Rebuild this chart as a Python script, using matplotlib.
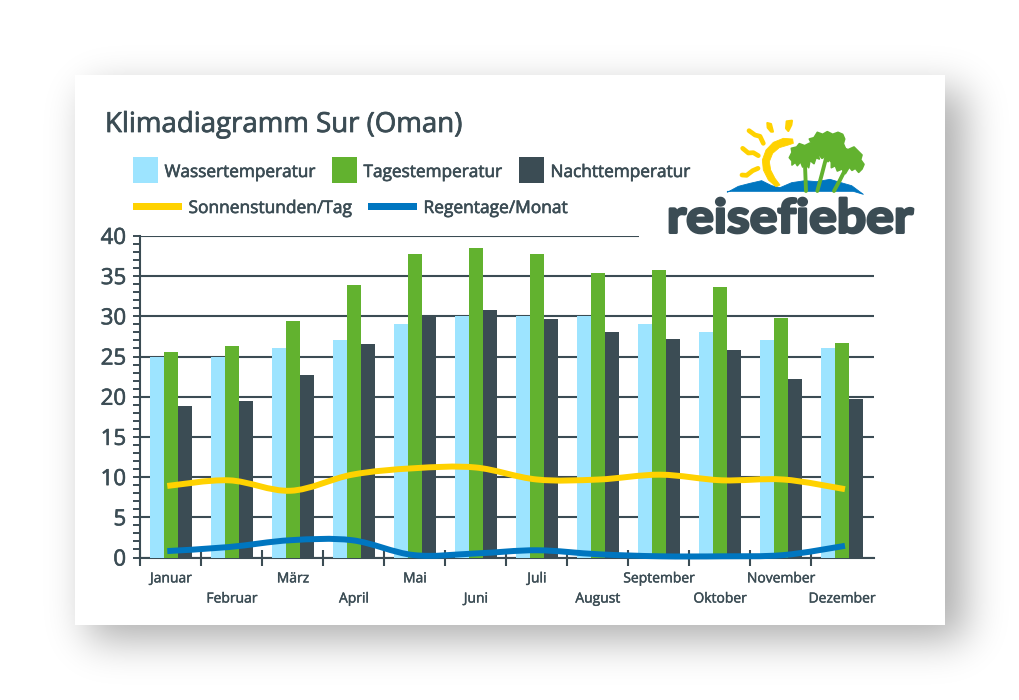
import matplotlib
matplotlib.use("Agg")
import matplotlib.patheffects as pe
import matplotlib.pyplot as plt
import numpy as np
from matplotlib.font_manager import FontProperties
from matplotlib.patches import PathPatch, Polygon, Rectangle
from matplotlib.path import Path
from matplotlib.textpath import TextPath
from matplotlib.transforms import Affine2D

months = ["Januar", "Februar", "März", "April", "Mai", "Juni", "Juli", "August",
          "September", "Oktober", "November", "Dezember"]
wasser = [25, 25, 26, 27, 29, 30, 30, 30, 29, 28, 27, 26]
tag = [25.6, 26.3, 29.4, 33.9, 37.8, 38.5, 37.8, 35.4, 35.7, 33.6, 29.8, 26.7]
nacht = [18.9, 19.5, 22.7, 26.6, 30.1, 30.8, 29.7, 28.1, 27.2, 25.8, 22.2, 19.7]
sonne = [8.9, 9.6, 8.3, 10.3, 11.1, 11.2, 9.7, 9.7, 10.3, 9.6, 9.7, 8.5]
regen = [0.8, 1.3, 2.15, 2.15, 0.3, 0.5, 0.9, 0.4, 0.15, 0.15, 0.3, 1.45]

WATER = "#9de4ff"
GREEN = "#62b22f"
DARK = "#3b4c54"
YELLOW = "#ffd200"
BLUE = "#0076c0"
W, H = 1020, 700

plt.rcParams["font.family"] = ["Open Sans", "DejaVu Sans"]
HEAVY = [pe.withStroke(linewidth=0.45, foreground=DARK)]


def smooth_path(xs, ys):
    # bezier through the monthly values
    xs, ys = np.asarray(xs, float), np.asarray(ys, float)
    verts = [(xs[0], ys[0])]
    codes = [Path.MOVETO]
    n = len(xs)
    for i in range(n - 1):
        a, d = max(i - 1, 0), min(i + 2, n - 1)
        verts.append((xs[i] + (xs[i + 1] - xs[a]) / 6, ys[i] + (ys[i + 1] - ys[a]) / 6))
        verts.append((xs[i + 1] - (xs[d] - xs[i]) / 6, ys[i + 1] - (ys[d] - ys[i]) / 6))
        verts.append((xs[i + 1], ys[i + 1]))
        codes += [Path.CURVE4] * 3
    return Path(verts, codes)


def shadow_image():
    def edge(size, lo, hi, sigma):
        k = np.exp(-0.5 * (np.arange(-70, 71) / sigma) ** 2)
        k /= k.sum()
        pad = np.zeros(size + 140)
        pad[lo + 70:hi + 70] = 1
        return np.convolve(pad, k, mode="same")[70:-70]
    alpha = np.outer(edge(H, 90, 640, 20), edge(W, 88, 965, 20)) * 0.32
    img = np.zeros((H, W, 4))
    img[..., 3] = alpha
    return img


fig = plt.figure(figsize=(W / 100, H / 100), dpi=100, facecolor="white")

# page layer: shadow and white card
bg = fig.add_axes([0, 0, 1, 1], zorder=0)
bg.axis("off")
bg.imshow(shadow_image(), extent=(0, W, H, 0), aspect="auto", zorder=1)
bg.set_xlim(0, W)
bg.set_ylim(H, 0)
bg.add_patch(Rectangle((75, 75), 870, 550, fc="white", ec="none", zorder=2))

# chart
ax = fig.add_axes([140 / W, 1 - 557.5 / H, 733.5 / W, 321.6 / H], zorder=1)
ax.patch.set_alpha(0)
ax.set_xlim(0, 733.5 / 61)
ax.set_ylim(0, 40)
x = np.arange(12) + 0.508
bw = 14 / 61
ax.bar(x - bw, wasser, bw, color=WATER, zorder=3)
ax.bar(x, tag, bw, color=GREEN, zorder=3)
ax.bar(x + bw, nacht, bw, color=DARK, zorder=3)

line_x = np.linspace(0.447, 11.557, 12)
ax.add_patch(PathPatch(smooth_path(line_x, sonne), fc="none", ec=YELLOW, lw=4.3,
                       capstyle="butt", zorder=4, clip_on=False))
ax.add_patch(PathPatch(smooth_path(line_x, regen), fc="none", ec=BLUE, lw=4.3,
                       capstyle="butt", zorder=5, clip_on=False))

ax.set_yticks(np.arange(0, 41, 5))
ax.set_yticks(np.arange(0, 41, 1), minor=True)
ax.yaxis.grid(True, which="major", color=DARK, lw=1.5, zorder=1)
ax.set_axisbelow(True)
ax.tick_params(axis="y", which="both", direction="out", length=5, width=1.4,
               color=DARK, labelcolor=DARK, labelsize=16, pad=5)
for lab in ax.get_yticklabels():
    lab.set_path_effects(HEAVY)
ax.set_xticks(np.arange(12))
ax.set_xticklabels([])
ax.tick_params(axis="x", which="major", direction="inout", length=11, width=1.5, color=DARK)
ax.set_xticks(x, months, minor=True)
ax.tick_params(axis="x", which="minor", length=0, labelcolor=DARK, labelsize=10)
for i, tick in enumerate(ax.xaxis.get_minor_ticks()):
    tick.set_pad(10 if i % 2 == 0 else 24.5)
    tick.label1.set_path_effects([pe.withStroke(linewidth=0.3, foreground=DARK)])
for s in ["top", "right"]:
    ax.spines[s].set_visible(False)
for s in ["left", "bottom"]:
    ax.spines[s].set_color(DARK)
    ax.spines[s].set_linewidth(1.5)
ax.spines["bottom"].set_zorder(2)

# overlay: title, legend, logo in pixel coordinates
top = fig.add_axes([0, 0, 1, 1], zorder=2)
top.set_xlim(0, W)
top.set_ylim(H, 0)
top.axis("off")
top.text(105, 125, "Klimadiagramm Sur (Oman)", fontsize=19.9, color=DARK, va="center",
         path_effects=[pe.withStroke(linewidth=0.55, foreground=DARK)])

for px, col, label in [(133, WATER, "Wassertemperatur"), (332, GREEN, "Tagestemperatur"),
                       (519, DARK, "Nachttemperatur")]:
    top.add_patch(Rectangle((px, 157), 25.5, 25.5, fc=col, ec="none"))
    top.text(px + 31.5, 173, label, fontsize=12.4, color=DARK, va="center", path_effects=HEAVY)
for px, col, label in [(133, YELLOW, "Sonnenstunden/Tag"), (368, BLUE, "Regentage/Monat")]:
    top.add_patch(Rectangle((px, 202.5), 49, 7, fc=col, ec="none"))
    top.text(px + 55.5, 209, label, fontsize=12.5, color=DARK, va="center", path_effects=HEAVY)

# logo
top.add_patch(Rectangle((639, 228), 290, 14, fc="white", ec="none"))


def z(pts):
    return [(730 + a / 3, 115 + b / 3) for a, b in pts]


def poly(pts, col, lw=0.6):
    top.add_patch(Polygon(z(pts), closed=True, fc=col, ec=col, lw=lw, joinstyle="round"))


def stroke(pts, col, lw):
    arr = np.array(z(pts))
    top.plot(arr[:, 0], arr[:, 1], color=col, lw=lw, solid_capstyle="round", solid_joinstyle="round")


poly([(-8, 232), (25, 214), (60, 205), (95, 197), (125, 212), (150, 218), (185, 203), (225, 197),
      (260, 200), (300, 193), (340, 205), (365, 212), (400, 238), (370, 229), (-8, 229)], BLUE)
poly([(188, 72), (160, 70), (130, 82), (108, 105), (97, 135), (100, 165), (115, 195), (138, 215),
      (150, 210), (135, 190), (122, 165), (118, 140), (128, 115), (148, 98), (175, 90), (190, 85)], YELLOW)
poly([(170, 19), (186, 17), (184, 30), (175, 48), (168, 40)], YELLOW, 1.5)
poly([(112, 24), (123, 27), (129, 50), (123, 50), (113, 38)], YELLOW, 1.5)
stroke([(57, 47), (75, 60), (90, 64), (100, 85)], YELLOW, 3.4)
stroke([(38, 100), (55, 114), (70, 113), (85, 122)], YELLOW, 3.4)
stroke([(36, 180), (50, 181), (68, 167), (84, 160)], YELLOW, 3.4)

stroke([(225, 150), (228, 228)], GREEN, 2.8)
stroke([(288, 130), (275, 180), (262, 228)], GREEN, 2.8)
stroke([(345, 165), (330, 195), (312, 228)], GREEN, 2.8)
poly([(178, 128), (186, 112), (184, 100), (200, 96), (208, 86), (224, 92), (240, 84), (250, 95), (262, 100),
      (264, 118), (268, 132), (258, 128), (252, 146), (240, 136), (236, 158), (226, 146), (218, 156),
      (212, 140), (202, 152), (196, 142), (186, 150), (186, 138)], GREEN, 1.2)
poly([(238, 72), (252, 68), (262, 52), (278, 58), (292, 50), (308, 58), (324, 52), (338, 58), (344, 72), (340, 86),
      (346, 100), (332, 104), (326, 118), (312, 112), (304, 130), (294, 140), (286, 124), (276, 130),
      (266, 118), (256, 128), (256, 108), (248, 92)], GREEN, 1.2)
poly([(296, 128), (310, 116), (312, 104), (328, 104), (340, 98), (354, 104), (372, 96), (384, 108), (396, 120),
      (392, 134), (402, 148), (396, 162), (386, 172), (376, 160), (366, 166), (358, 156), (346, 176),
      (336, 162), (322, 168), (316, 152), (304, 158), (304, 142)], GREEN, 1.2)

fp = FontProperties(family="Lato", weight="bold")
tp = TextPath((0, 0), "reisefieber", size=40, prop=fp)
bb = tp.get_extents()
tr = (Affine2D().translate(-bb.x0, -bb.y0).scale(243 / bb.width, -35 / bb.height)
      .translate(670, 233))
top.add_patch(PathPatch(tr.transform_path(tp), fc=DARK, ec=DARK, lw=2.0, joinstyle="round"))

fig.savefig("out.png", dpi=100)
